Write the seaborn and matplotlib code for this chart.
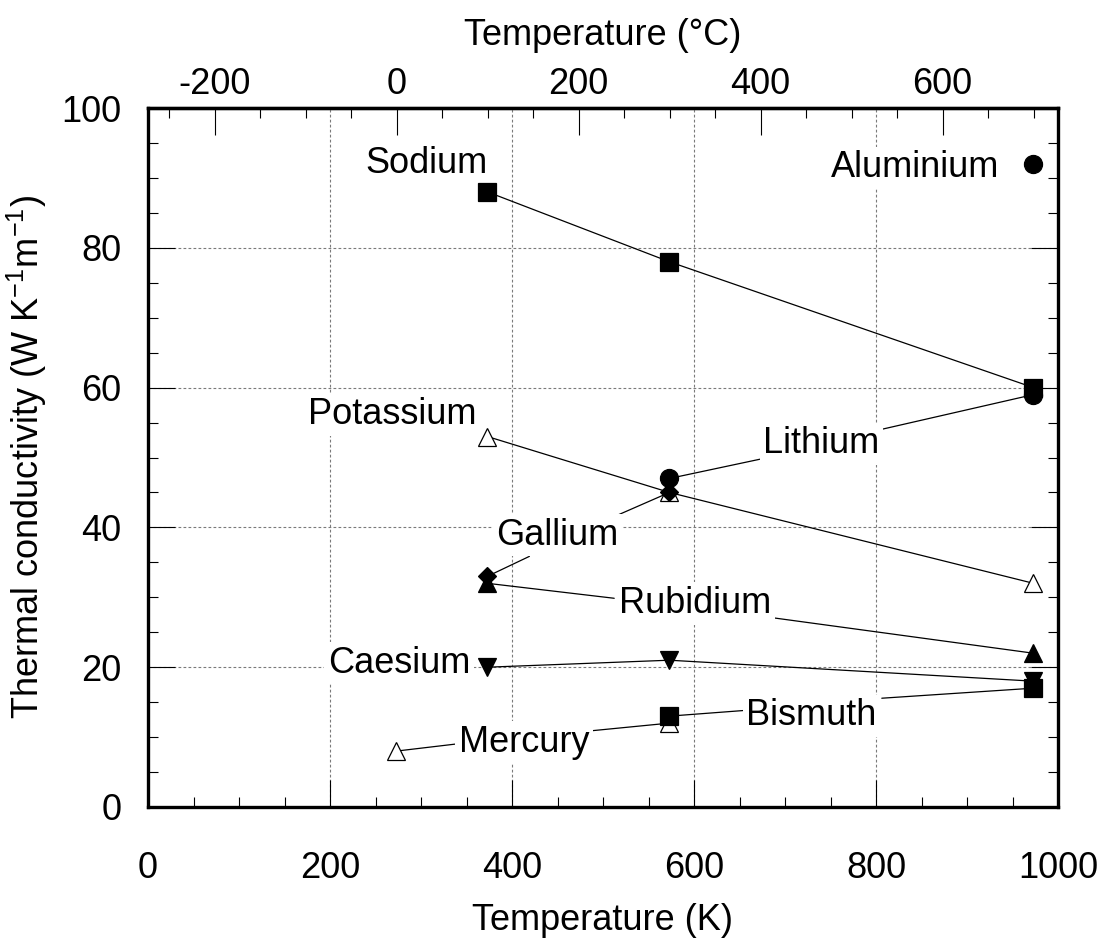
import matplotlib
matplotlib.use("Agg")
import matplotlib.pyplot as plt
from matplotlib.ticker import MultipleLocator
import pandas as pd
import seaborn as sns

# Thermal conductivity of liquid metals (W K^-1 m^-1) against temperature (K)
sodium_T = [373, 573, 973]
sodium_k = [88, 78, 60]
aluminium_T = [973]
aluminium_k = [92]
lithium_T = [573, 973]
lithium_k = [47, 59]
potassium_T = [373, 573, 973]
potassium_k = [53, 45, 32]
gallium_T = [373, 573]
gallium_k = [33, 45]
rubidium_T = [373, 973]
rubidium_k = [32, 22]
caesium_T = [373, 573, 973]
caesium_k = [20, 21, 18]
mercury_T = [273, 573]
mercury_k = [8, 12]
bismuth_T = [573, 973]
bismuth_k = [13, 17]

x_ticks_K = [0, 200, 400, 600, 800, 1000]
x_ticks_C = [-200, 0, 200, 400, 600]
y_ticks = [0, 20, 40, 60, 80, 100]

sns.set_style("white")
plt.rcParams["font.family"] = ["Liberation Sans", "DejaVu Sans"]
plt.rcParams["mathtext.fontset"] = "custom"
plt.rcParams["mathtext.rm"] = "Liberation Sans"
plt.rcParams["mathtext.it"] = "Liberation Sans:italic"
plt.rcParams["mathtext.bf"] = "Liberation Sans:bold"
plt.rcParams["axes.unicode_minus"] = False
plt.rcParams["text.color"] = "black"
plt.rcParams["axes.labelcolor"] = "black"
plt.rcParams["xtick.color"] = "black"
plt.rcParams["ytick.color"] = "black"

FS = 26

fig = plt.figure(figsize=(11.04, 9.4), dpi=100)
ax = fig.add_axes([148 / 1104, 1 - 807 / 940, 910 / 1104, 699 / 940])

# series: (name, T, k, marker, size, face, connected, zorder)
series = [
    ("Sodium", sodium_T, sodium_k, "s", 13, "black", True, 5),
    ("Aluminium", aluminium_T, aluminium_k, "o", 13, "black", False, 5),
    ("Potassium", potassium_T, potassium_k, "^", 13, "white", True, 4),
    ("Gallium", gallium_T, gallium_k, "D", 9, "black", False, 5),
    ("Lithium", lithium_T, lithium_k, "o", 13, "black", False, 6),
    ("Rubidium", rubidium_T, rubidium_k, "^", 13, "black", False, 4),
    ("Caesium", caesium_T, caesium_k, "v", 13, "black", True, 4),
    ("Mercury", mercury_T, mercury_k, "^", 13, "white", False, 4),
    ("Bismuth", bismuth_T, bismuth_k, "s", 13, "black", False, 5),
]

for name, T, k, mk, ms, face, connected, z in series:
    df = pd.DataFrame({"T": T, "k": k})
    sns.lineplot(
        data=df, x="T", y="k", ax=ax, color="black",
        linewidth=0.9 if connected else 0,
        linestyle="-" if connected else "none",
        marker=mk, markersize=ms, markerfacecolor=face,
        markeredgecolor="black", markeredgewidth=0.9,
        zorder=z, clip_on=False,
    )

# label text: (name, x, baseline y)
labels = {
    "Sodium": (306, 90.7),
    "Aluminium": (843, 90.1),
    "Potassium": (268, 54.8),
    "Lithium": (740, 50.6),
    "Gallium": (450, 37.5),
    "Rubidium": (601, 27.75),
    "Caesium": (276, 19.2),
    "Mercury": (413, 7.9),
    "Bismuth": (729, 11.7),
}

# leader lines: (label, target T, target k, relpos on label)
leaders = [
    ("Lithium", lithium_T[0], lithium_k[0], (0.0, 0.08)),
    ("Lithium", lithium_T[1], lithium_k[1], (1.0, 0.9)),
    ("Gallium", gallium_T[1], gallium_k[1], (0.94, 1.0)),
    ("Gallium", gallium_T[0], gallium_k[0], (0.27, -0.1)),
    ("Rubidium", rubidium_T[0], rubidium_k[0], (-0.03, 0.65)),
    ("Rubidium", rubidium_T[1], rubidium_k[1], (1.0, 0.1)),
    ("Mercury", mercury_T[0], mercury_k[0], (-0.02, 0.45)),
    ("Mercury", mercury_T[1], mercury_k[1], (1.02, 0.83)),
    ("Bismuth", bismuth_T[0], bismuth_k[0], (-0.015, 0.65)),
    ("Bismuth", bismuth_T[1], bismuth_k[1], (1.04, 1.0)),
]

for name, tx, ty, rp in leaders:
    lx, ly = labels[name]
    ax.annotate(
        name, xy=(tx, ty), xytext=(lx, ly), textcoords="data",
        ha="center", va="baseline", fontsize=FS, color="none",
        arrowprops=dict(arrowstyle="-", color="black", lw=0.9,
                        relpos=rp, shrinkA=0, shrinkB=0),
        zorder=3,
    )

for name, (lx, ly) in labels.items():
    ax.text(lx, ly, name, ha="center", va="baseline", fontsize=FS,
            color="black", zorder=3.5,
            bbox=dict(boxstyle="square,pad=0.1", fc="white", ec="none"))

ax.set_xlim(0, 1000)
ax.set_ylim(0, 100)
ax.set_xticks(x_ticks_K)
ax.set_yticks(y_ticks)
ax.xaxis.set_minor_locator(MultipleLocator(50))
ax.yaxis.set_minor_locator(MultipleLocator(5))

ax.grid(True, which="major", color="#7a7a7a",
        linestyle=(0, (2.5, 2)), linewidth=0.8)
ax.set_axisbelow(True)

ax.tick_params(axis="both", which="both", direction="in", width=0.8,
               labelsize=FS, colors="black")
ax.tick_params(axis="both", which="major", length=19.5)
ax.tick_params(axis="both", which="minor", length=7)
ax.tick_params(axis="x", which="both", top=False, bottom=True, pad=32)
ax.tick_params(axis="y", which="both", left=True, right=True, pad=19)

for sp in ax.spines.values():
    sp.set_visible(True)
    sp.set_linewidth(2.4)
    sp.set_color("black")

ax.set_xlabel("Temperature (K)", fontsize=FS, labelpad=12, color="black")
ax.set_ylabel(r"Thermal conductivity (W K$^{-1}$m$^{-1}$)", fontsize=FS,
              labelpad=9, color="black")

secax = ax.secondary_xaxis("top", functions=(lambda t: t - 273.15,
                                             lambda c: c + 273.15))
secax.set_xticks(x_ticks_C)
secax.xaxis.set_minor_locator(MultipleLocator(50))
secax.tick_params(axis="x", which="both", direction="in", width=0.8,
                  labelsize=FS, pad=4, colors="black")
secax.tick_params(axis="x", which="major", length=19.5)
secax.tick_params(axis="x", which="minor", length=7)
secax.spines["top"].set_linewidth(2.4)
secax.set_xlabel("Temperature (°C)", fontsize=FS, labelpad=16, color="black")

fig.savefig("out.png", dpi=100)
